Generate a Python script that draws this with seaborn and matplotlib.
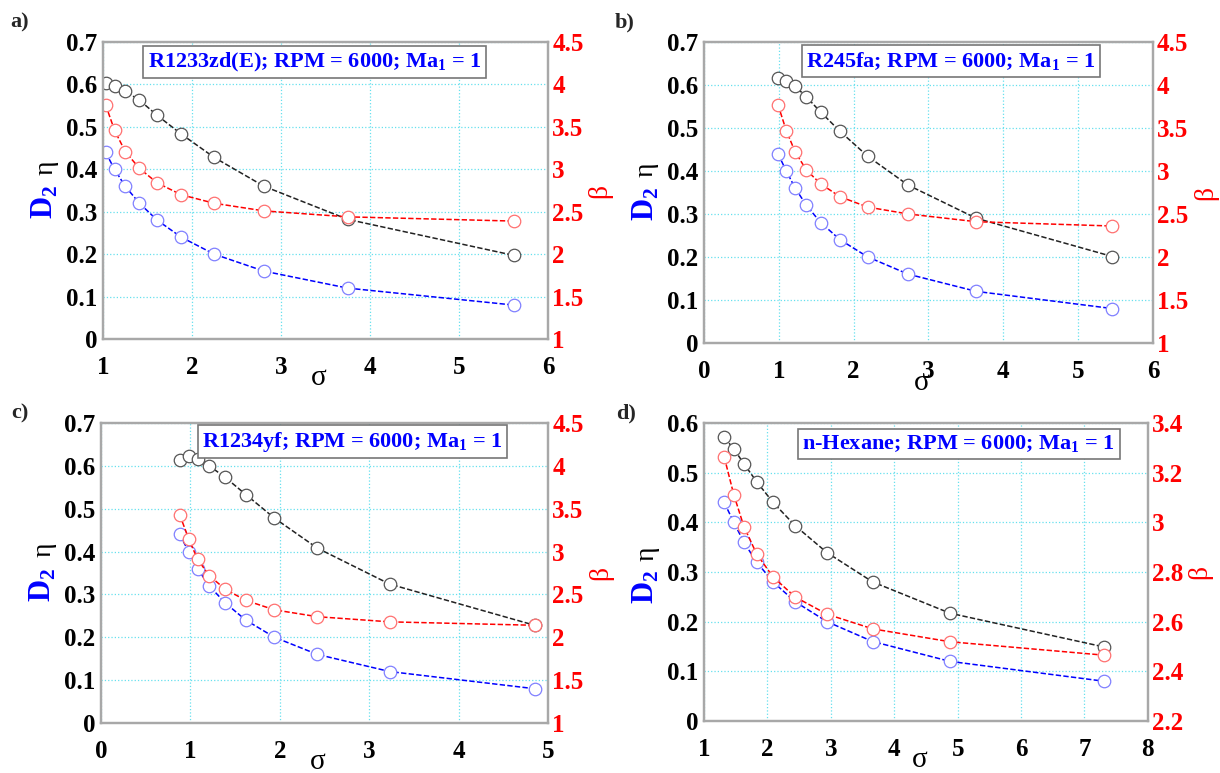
import matplotlib
matplotlib.use("Agg")
import matplotlib.pyplot as plt
import seaborn as sns
from matplotlib.ticker import FormatStrFormatter, MultipleLocator

sns.set_style("white")
plt.rcParams["font.family"] = ["Liberation Serif", "DejaVu Serif"]
plt.rcParams["font.weight"] = "bold"
plt.rcParams["mathtext.fontset"] = "custom"
plt.rcParams["mathtext.rm"] = "Liberation Serif"
plt.rcParams["mathtext.bf"] = "Liberation Serif:bold"

# D2 is the same in every panel
d2 = [0.44, 0.40, 0.36, 0.32, 0.28, 0.24, 0.20, 0.16, 0.12, 0.08]

# a) R1233zd(E)
sigma_a = [1.03, 1.13, 1.25, 1.41, 1.61, 1.88, 2.25, 2.81, 3.75, 5.62]
eta_a = [0.604, 0.596, 0.584, 0.563, 0.527, 0.483, 0.428, 0.360, 0.282, 0.197]
beta_a = [3.76, 3.46, 3.21, 3.01, 2.84, 2.70, 2.60, 2.51, 2.44, 2.39]

# b) R245fa
sigma_b = [0.99, 1.10, 1.22, 1.37, 1.56, 1.82, 2.19, 2.73, 3.64, 5.46]
eta_b = [0.617, 0.610, 0.597, 0.572, 0.537, 0.492, 0.434, 0.367, 0.290, 0.201]
beta_b = [3.77, 3.47, 3.22, 3.01, 2.85, 2.70, 2.58, 2.50, 2.41, 2.36]

# c) R1234yf
sigma_c = [0.88, 0.98, 1.08, 1.21, 1.39, 1.62, 1.94, 2.42, 3.23, 4.85]
eta_c = [0.614, 0.622, 0.617, 0.600, 0.573, 0.533, 0.478, 0.408, 0.324, 0.228]
beta_c = [3.43, 3.15, 2.91, 2.72, 2.56, 2.43, 2.32, 2.24, 2.18, 2.14]

# d) n-Hexane
sigma_d = [1.32, 1.47, 1.63, 1.83, 2.09, 2.44, 2.94, 3.66, 4.88, 7.31]
eta_d = [0.571, 0.548, 0.518, 0.482, 0.440, 0.393, 0.339, 0.280, 0.217, 0.149]
beta_d = [3.263, 3.112, 2.983, 2.873, 2.780, 2.699, 2.630, 2.571, 2.519, 2.465]

fluids = ["R1233zd(E)", "R245fa", "R1234yf", "n-Hexane"]
letters = ["a)", "b)", "c)", "d)"]

fig = plt.figure(figsize=(12.2, 7.73), dpi=100)

boxes = [
    [0.0844, 0.5614, 0.3648, 0.3842],
    [0.5770, 0.5563, 0.3680, 0.3894],
    [0.0828, 0.0647, 0.3664, 0.3881],
    [0.5770, 0.0673, 0.3639, 0.3855],
]
xlims = [(1, 6), (0, 6), (0, 5), (1, 8)]
ylims = [(0, 0.7), (0, 0.7), (0, 0.7), (0, 0.6)]
blims = [(1, 4.5), (1, 4.5), (1, 4.5), (2.2, 3.4)]
bsteps = [0.5, 0.5, 0.5, 0.2]
note_x = [0.476, 0.55, 0.563, 0.574]
note_y = [0.932, 0.936, 0.938, 0.93]
lab_pos = [(10, 22), (615, 22), (11, 413), (616, 413)]
eta_y = [0.576, 0.576, 0.576, 0.56]
d2_y = [0.461, 0.461, 0.461, 0.45]

data = [
    (sigma_a, eta_a, beta_a),
    (sigma_b, eta_b, beta_b),
    (sigma_c, eta_c, beta_c),
    (sigma_d, eta_d, beta_d),
]

dash = (3.5, 1.5)
mk = dict(marker="o", markersize=9, markerfacecolor="white", markeredgewidth=0.9)

for i, (sig, eta, beta) in enumerate(data):
    ax = fig.add_axes(boxes[i])
    ax2 = ax.twinx()

    sns.lineplot(x=sig, y=d2, ax=ax, color="blue", lw=1.1,
                 linestyle=(0, dash), markeredgecolor="#8080ff", sort=False, **mk)
    sns.lineplot(x=sig, y=eta, ax=ax, color="#222222", lw=1.1,
                 linestyle=(0, dash), markeredgecolor="#555555", sort=False, **mk)
    sns.lineplot(x=sig, y=beta, ax=ax2, color="red", lw=1.1,
                 linestyle=(0, dash), markeredgecolor="#ff7070", sort=False, **mk)

    ax.set_xlim(*xlims[i])
    ax.set_ylim(*ylims[i])
    ax2.set_ylim(*blims[i])
    ax.xaxis.set_major_locator(MultipleLocator(1))
    ax.yaxis.set_major_locator(MultipleLocator(0.1))
    ax2.yaxis.set_major_locator(MultipleLocator(bsteps[i]))
    ax.yaxis.set_major_formatter(FormatStrFormatter("%g"))
    ax2.yaxis.set_major_formatter(FormatStrFormatter("%g"))

    ax.grid(True, color="#66e0ee", linestyle=":", linewidth=0.9)
    ax.tick_params(axis="both", labelsize=18, length=0, colors="black")
    ax.tick_params(axis="x", pad=12)
    ax.tick_params(axis="y", pad=4)
    ax2.tick_params(axis="y", labelsize=18, length=0, labelcolor="red", pad=3)
    ax.set_xlabel("")
    ax.set_ylabel("")
    ax2.set_ylabel("")
    for a in (ax, ax2):
        for s in a.spines.values():
            s.set_color("#a8a8a8")
            s.set_linewidth(1.6)

    ax.text(-0.13, d2_y[i], r"D$_\mathbf{2}$", transform=ax.transAxes, rotation=90,
            ha="center", va="center", color="blue", fontsize=22, fontweight="bold")
    ax.text(-0.128, eta_y[i], "η", transform=ax.transAxes, rotation=90,
            ha="center", va="center", color="black", fontsize=20, fontweight="normal")
    ax2.text(1.117, 0.5, "β", transform=ax2.transAxes, rotation=90,
             ha="center", va="center", color="red", fontsize=20, fontweight="normal")
    ax.text(0.485, -0.155, "σ", transform=ax.transAxes, ha="center", va="baseline",
            color="black", fontsize=21, fontweight="normal")

    ax2.text(note_x[i], note_y[i], fluids[i] + r"; RPM = 6000; Ma$_\mathbf{1}$ = 1",
             transform=ax2.transAxes, ha="center", va="center", color="blue",
             fontsize=16, fontweight="bold", zorder=10,
             bbox=dict(boxstyle="square,pad=0.2", fc="white", ec="#777777", lw=1.2))

    fig.text(lab_pos[i][0] / 1220, 1 - lab_pos[i][1] / 773, letters[i],
             ha="left", va="center", fontsize=16, fontweight="bold")

fig.savefig("out.png", dpi=100)
